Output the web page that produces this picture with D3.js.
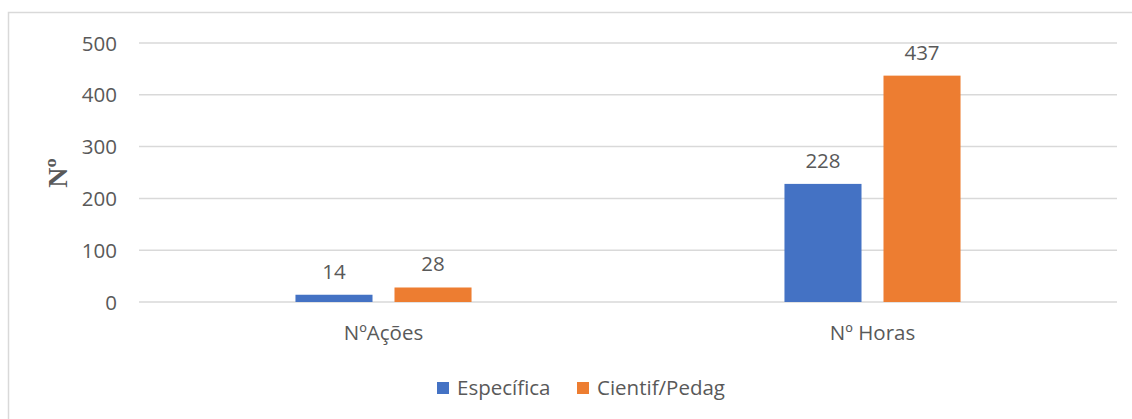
<!DOCTYPE html>
<html>
<head>
<meta charset="utf-8">
<script src="https://cdn.jsdelivr.net/npm/d3@7"></script>
<style>
  html, body { margin: 0; padding: 0; background: #fff; }
  svg { display: block; }
  text { font-family: "Open Sans", sans-serif; fill: #595959; }
</style>
</head>
<body>
<svg id="chart" width="1132" height="419"></svg>
<script>
const categories = ["NºAções", "Nº Horas"];
const seriesNames = ["Específica", "Cientif/Pedag"];
const especifica = [14, 228];
const cientifPedag = [28, 437];
const yTicks = [0, 100, 200, 300, 400, 500];
const colors = ["#4472C4", "#ED7D31"];
const yTitle = "Nº";

(function () {
const seriesValues = [especifica, cientifPedag];
const svg = d3.select("#chart");
const fs = "20.5px";

// outer border
svg.append("rect")
  .attr("x", 8.5).attr("y", 12.5)
  .attr("width", 1140).attr("height", 420)
  .attr("fill", "none").attr("stroke", "#d9d9d9").attr("stroke-width", 1.5);

const pLeft = 139, pRight = 1117, pTop = 43, pBottom = 302;

const x = d3.scaleBand().domain(categories).range([pLeft, pRight]).paddingInner(0).paddingOuter(0);
const xs = d3.scaleBand().domain(seriesNames).range([0, x.bandwidth()]).paddingInner(0.222).paddingOuter(1.58);
const y = d3.scaleLinear().domain([0, 500]).range([pBottom, pTop]);

// gridlines
svg.append("g").selectAll("line").data(yTicks).join("line")
  .attr("x1", pLeft).attr("x2", pRight)
  .attr("y1", d => y(d)).attr("y2", d => y(d))
  .attr("stroke", "#d9d9d9").attr("stroke-width", 1.5);

// y axis labels
const yAxis = d3.axisLeft(y).tickValues(yTicks).tickSize(0).tickPadding(0);
const gy = svg.append("g").attr("transform", `translate(117,0)`).call(yAxis);
gy.select(".domain").remove();
gy.selectAll("text").style("font-family", '"Open Sans", sans-serif')
  .style("font-size", fs).attr("fill", "#595959").attr("dy", "0.35em");

// x axis labels
const xAxis = d3.axisBottom(x).tickSize(0).tickPadding(0);
const gx = svg.append("g").attr("transform", `translate(0,333)`).call(xAxis);
gx.select(".domain").remove();
gx.selectAll("text").style("font-family", '"Open Sans", sans-serif')
  .style("font-size", fs).attr("fill", "#595959").attr("dy", "0.35em");

// bars
seriesNames.forEach((s, si) => {
  const g = svg.append("g");
  g.selectAll("rect").data(categories).join("rect")
    .attr("x", c => x(c) + xs(s))
    .attr("width", xs.bandwidth())
    .attr("y", (c, i) => y(seriesValues[si][i]))
    .attr("height", (c, i) => y(0) - y(seriesValues[si][i]))
    .attr("fill", colors[si]);
  g.selectAll("text").data(categories).join("text")
    .attr("x", c => x(c) + xs(s) + xs.bandwidth() / 2)
    .attr("y", (c, i) => y(seriesValues[si][i]) - 16)
    .attr("text-anchor", "middle")
    .style("font-size", fs)
    .text((c, i) => seriesValues[si][i]);
});

// y title
svg.append("text")
  .attr("transform", "translate(57,173) rotate(-90)")
  .attr("text-anchor", "middle").attr("dy", "0.35em")
  .style("font-family", '"Liberation Serif", "Times New Roman", serif')
  .style("font-weight", "bold").style("font-size", "28px")
  .text(yTitle);

// legend
const legendX = [437, 577];
const lg = svg.append("g");
seriesNames.forEach((s, i) => {
  lg.append("rect").attr("x", legendX[i]).attr("y", 382)
    .attr("width", 12).attr("height", 12).attr("fill", colors[i]);
  lg.append("text").attr("x", legendX[i] + 20).attr("y", 388)
    .attr("dy", "0.35em").style("font-size", fs).text(s);
});
})();
</script>
</body>
</html>
